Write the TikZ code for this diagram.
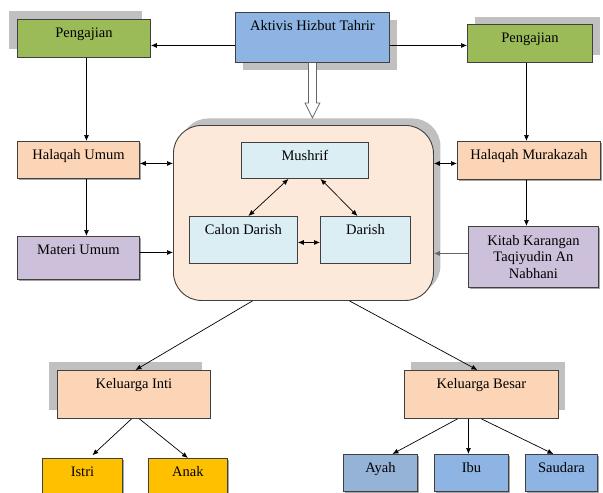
\documentclass[tikz,border=0pt]{standalone}
\usepackage{fontspec}
\setmainfont{Liberation Serif}
\usetikzlibrary{arrows.meta,shadows,calc}
\definecolor{greenA}{HTML}{9BBB59}
\definecolor{blueA}{HTML}{8DB4E2}
\definecolor{blueB}{HTML}{95B3D7}
\definecolor{peach}{HTML}{FBD5B5}
\definecolor{lav}{HTML}{CCC0DA}
\definecolor{bigfill}{HTML}{FDE9D9}
\definecolor{lblue}{HTML}{DAEEF3}
\definecolor{goldA}{HTML}{FFC000}
\definecolor{shgray}{HTML}{C0C0C0}
\definecolor{edgec}{HTML}{404040}
\newcommand\mainfs{\fontsize{14.5}{16.5}\selectfont}
\tikzset{
 box/.style={draw=edgec, line width=0.9pt, inner sep=0pt, anchor=north west},
 bigsh/.style 2 args={general shadow={fill=shgray, shadow xshift=#1, shadow yshift=#2}},
 smallsh/.style={general shadow={fill=black!35, shadow xshift=1.5pt, shadow yshift=-1.5pt}},
 txt/.style={label={[anchor=base, yshift=-18pt]north:#1}},
 arr/.style={-{Latex[length=6pt,width=5pt]}, line width=0.7pt},
 darr/.style={{Latex[length=6pt,width=5pt]}-{Latex[length=6pt,width=5pt]}, line width=0.7pt},
 hollow/.style={draw=black!60, fill=white, line width=0.8pt, line join=miter}
}
\begin{document}
\begin{tikzpicture}[x=1pt, y=-1pt, font=\mainfs]
\useasboundingbox (0,0) rectangle (603,493);
\clip (0,0) rectangle (603,493);
% top row
\node[box, fill=greenA, bigsh={-8pt}{8pt}, minimum width=133pt, minimum height=38pt, txt=Pengajian] (pl) at (17,19) {};
\node[box, fill=blueA, bigsh={8pt}{-8pt}, minimum width=154pt, minimum height=50pt, txt=Aktivis Hizbut Tahrir] (akt) at (235,12) {};
\node[box, fill=greenA, bigsh={8pt}{7pt}, minimum width=125pt, minimum height=38pt, txt=Pengajian] (pr) at (467,24) {};
% left column
\node[box, fill=peach, smallsh, minimum width=122pt, minimum height=37pt, txt=Halaqah Umum] (hu) at (17,141) {};
\node[box, fill=lav, smallsh, minimum width=122pt, minimum height=43pt, txt=Materi Umum] (mu) at (17,236) {};
% big box
\node[box, fill=bigfill, rounded corners=28pt, bigsh={7pt}{7pt}, minimum width=260pt, minimum height=175pt] (big) at (173,125) {};
\node[box, fill=lblue, minimum width=127pt, minimum height=36pt, txt=Mushrif] (mus) at (241,142) {};
\node[box, fill=lblue, minimum width=108pt, minimum height=47pt, txt=Calon Darish] (cd) at (189,216) {};
\node[box, fill=lblue, minimum width=90pt, minimum height=47pt, txt=Darish] (dar) at (320,216) {};
% right column
\node[box, fill=peach, smallsh, minimum width=143pt, minimum height=38pt, txt=Halaqah Murakazah] (hm) at (457,141) {};
\node[box, fill=lav, smallsh, minimum width=130pt, minimum height=61pt, align=center] (kit) at (468,226) {Kitab Karangan\\Taqiyudin An\\Nabhani};
% families
\node[box, fill=peach, bigsh={-8pt}{8pt}, minimum width=153pt, minimum height=48pt, txt=Keluarga Inti] (ki) at (57,370) {};
\node[box, fill=peach, bigsh={7pt}{8pt}, minimum width=154pt, minimum height=48pt, txt=Keluarga Besar] (kb) at (404,370) {};
\node[box, fill=goldA, smallsh, minimum width=80pt, minimum height=40pt, txt=Istri] (ist) at (42,458) {};
\node[box, fill=goldA, smallsh, minimum width=79pt, minimum height=40pt, txt=Anak] (ana) at (148,458) {};
\node[box, fill=blueB, smallsh, minimum width=74pt, minimum height=37pt, txt=Ayah] (aya) at (343,454) {};
\node[box, fill=blueA, smallsh, minimum width=74pt, minimum height=37pt, txt=Ibu] (ibu) at (434,454) {};
\node[box, fill=blueA, smallsh, minimum width=72pt, minimum height=37pt, txt=Saudara] (sau) at (525,454) {};
% connectors
\coordinate (a1) at ($(akt.west)+(0,8)$);
\coordinate (a2) at ($(akt.east)+(0,8)$);
\draw[arr] (a1) -- (a1 -| pl.east);
\draw[arr] (a2) -- (a2 -| pr.west);
\draw[hollow] ($(akt.south)+(-4,0)$) -- ++(0,40) -- ++(-3.5,0) -- ++(7.5,15) -- ++(7.5,-15) -- ++(-3.5,0) -- ++(0,-40);
\coordinate (p1) at ($(hu.north)+(8,0)$);
\coordinate (p2) at ($(mu.north)+(8,0)$);
\draw[arr] (p1 |- pl.south) -- (p1);
\draw[arr] (p2 |- hu.south) -- (p2);
\coordinate (h1) at ($(hu.east)+(0,3.5)$);
\coordinate (m1) at ($(mu.east)+(0,-5.5)$);
\draw[darr] (h1) -- (h1 -| big.west);
\draw[arr] (m1) -- (m1 -| big.west);
\coordinate (r1) at ($(hm.north)+(-2.5,0)$);
\coordinate (r2) at ($(kit.north)+(-7,0)$);
\draw[arr] (r1 |- pr.south) -- (r1);
\draw[arr] (r2 |- hm.south) -- (r2);
\coordinate (k1) at ($(hm.west)+(0,3)$);
\coordinate (k2) at ($(kit.west)+(0,-3.5)$);
\draw[darr] (k1 -| big.east) -- (k1);
\draw[arr, draw=black!60] (k2) -- (k2 -| big.east);
\draw[darr] ([xshift=-16.5pt]mus.south) -- ([xshift=5pt]cd.north);
\draw[darr] ([xshift=15.5pt]mus.south) -- ([xshift=-8pt]dar.north);
\draw[darr] ([yshift=-2.5pt]cd.east) -- ([yshift=-2.5pt]dar.west);
\draw[arr] ([xshift=-51pt]big.south) -- ([xshift=1.5pt]ki.north);
\draw[arr] ([xshift=46pt]big.south) -- ([xshift=-4pt]kb.north);
\draw[arr, shorten >=4pt] ([xshift=-2.5pt]ki.south) -- ([xshift=7pt]ist.north);
\draw[arr] ([xshift=5.5pt]ki.south) -- (ana.north);
\draw[arr] ([xshift=-24pt]kb.south) -- ([xshift=12pt]aya.north);
\draw[arr] ([xshift=-13pt]kb.south) -- ([xshift=-3pt]ibu.north);
\draw[arr] (kb.south) -- ([xshift=-8pt]sau.north);
\end{tikzpicture}
\end{document}
